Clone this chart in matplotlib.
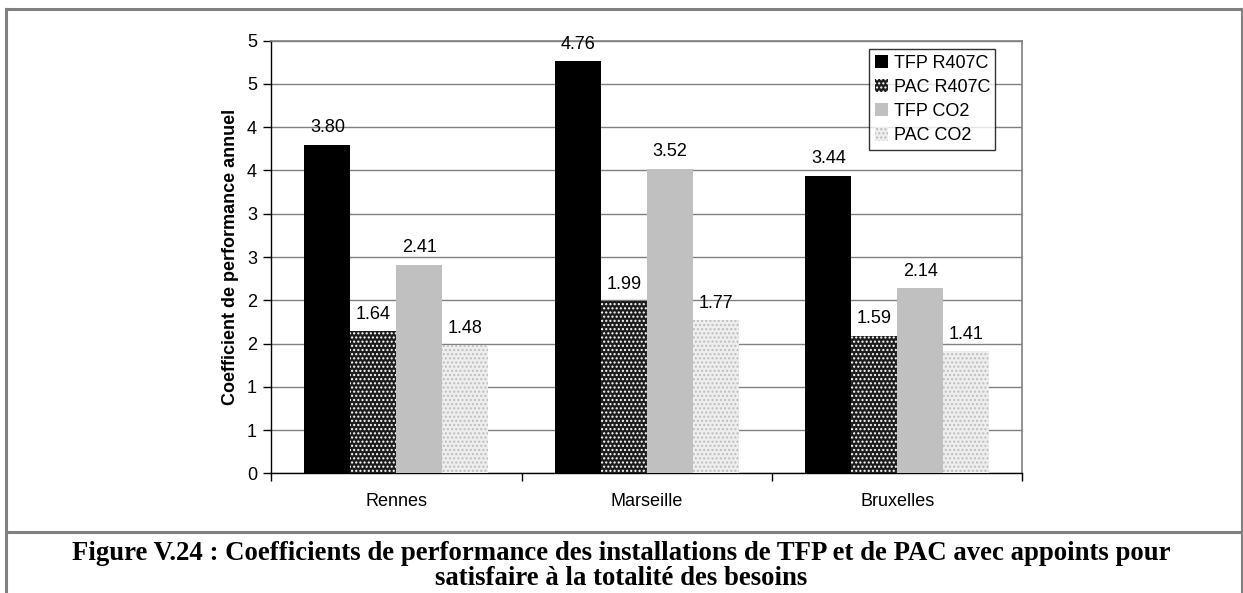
import numpy as np
import matplotlib
matplotlib.use("Agg")
import matplotlib.pyplot as plt
from matplotlib.lines import Line2D

# Data: annual coefficient of performance per city and installation
villes = ["Rennes", "Marseille", "Bruxelles"]
series = ["TFP R407C", "PAC R407C", "TFP CO2", "PAC CO2"]
tfp_r407c = [3.80, 4.76, 3.44]
pac_r407c = [1.64, 1.99, 1.59]
tfp_co2 = [2.41, 3.52, 2.14]
pac_co2 = [1.48, 1.77, 1.41]
y_ticks = [0, 0.5, 1, 1.5, 2, 2.5, 3, 3.5, 4, 4.5, 5]

valeurs = [tfp_r407c, pac_r407c, tfp_co2, pac_co2]
styles = [
    dict(facecolor="black", edgecolor="black", hatch=None),
    dict(facecolor="#1c1c1c", edgecolor="white", hatch="...."),
    dict(facecolor="#c0c0c0", edgecolor="#c0c0c0", hatch=None),
    dict(facecolor="#eeeeee", edgecolor="#bdbdbd", hatch="...."),
]

plt.rcParams["font.family"] = ["Liberation Sans", "DejaVu Sans"]
plt.rcParams["hatch.linewidth"] = 1.0

W, H = 1243, 593
fig = plt.figure(figsize=(W / 100, H / 100), dpi=100)
fig.patch.set_facecolor("white")

# Outer frame and separator between chart and caption
frame_col = "#808080"
fig.add_artist(Line2D([6 / W, 6 / W], [0, 1 - 8.5 / H], transform=fig.transFigure,
                      color=frame_col, lw=2.2))
fig.add_artist(Line2D([6 / W, 1242.5 / W], [1 - 8.5 / H, 1 - 8.5 / H],
                      transform=fig.transFigure, color=frame_col, lw=2.2))
fig.add_artist(Line2D([1242 / W, 1242 / W], [0, 1 - 8.5 / H], transform=fig.transFigure,
                      color=frame_col, lw=2.2))
fig.add_artist(Line2D([6 / W, 1], [1 - 531.7 / H, 1 - 531.7 / H],
                      transform=fig.transFigure, color=frame_col, lw=2.2))

left, right = 271 / W, 1022.5 / W
bottom, top = 1 - 473.3 / H, 1 - 40.7 / H
ax = fig.add_axes([left, bottom, right - left, top - bottom])

n = len(series)
bw = 0.1833
x = np.arange(len(villes))
for i, (vals, st) in enumerate(zip(valeurs, styles)):
    pos = x + (i - (n - 1) / 2) * bw
    ax.bar(pos, vals, width=bw, facecolor=st["facecolor"],
           edgecolor=st["edgecolor"], hatch=st["hatch"], linewidth=0,
           label=series[i], zorder=3)
    for xp, v in zip(pos, vals):
        ax.annotate(f"{v:.2f}", (xp, v), xytext=(0, 6), textcoords="offset points",
                    ha="center", va="bottom", fontsize=13, color="black", zorder=4)

ax.set_xlim(-0.5, len(villes) - 0.5)
ax.set_ylim(0, 5)
ax.set_yticks(y_ticks)
# Axis labels are shown rounded to whole numbers
ax.set_yticklabels([f"{int(np.floor(t + 0.5))}" for t in y_ticks], fontsize=13)
ax.yaxis.grid(True, color="#808080", lw=1.0, zorder=0)
ax.set_axisbelow(True)

# Category ticks sit on the group boundaries, labels at group centres
ax.set_xticks(np.arange(-0.5, len(villes), 1.0))
ax.set_xticklabels([])
ax.set_xticks(x, minor=True)
ax.set_xticklabels(villes, minor=True, fontsize=13)
ax.tick_params(axis="x", which="minor", length=0, pad=14)
ax.tick_params(axis="x", which="major", length=6, width=1, color="black", direction="out")
ax.tick_params(axis="y", length=6, width=1, direction="out", pad=4)

for side in ("top", "right"):
    ax.spines[side].set_color("#808080")
    ax.spines[side].set_linewidth(1.2)
for side in ("left", "bottom"):
    ax.spines[side].set_color("black")
    ax.spines[side].set_linewidth(1.0)

ax.set_ylabel("Coefficient de performance annuel", fontsize=13, fontweight="bold",
              labelpad=6)

leg = ax.legend(loc="upper left", bbox_to_anchor=((869.3 - 271) / (1022.5 - 271),
                                                   1 - (49.3 - 40.7) / (473.3 - 40.7)),
                fontsize=13, frameon=True, fancybox=False, edgecolor="black",
                handlelength=0.75, handleheight=0.75, handletextpad=0.3,
                labelspacing=0.4, borderpad=0.3, borderaxespad=0)
leg.get_frame().set_linewidth(1.0)

serif = ["Liberation Serif", "DejaVu Serif"]
fig.text(0.5, 1 - 560 / H,
         "Figure V.24 : Coefficients de performance des installations de TFP et de PAC avec appoints pour",
         ha="center", va="baseline", fontsize=19.3, fontweight="bold", family=serif)
fig.text(0.5, 1 - 585 / H, "satisfaire à la totalité des besoins",
         ha="center", va="baseline", fontsize=19.3, fontweight="bold", family=serif)

fig.savefig("out.png", dpi=100, facecolor="white")
